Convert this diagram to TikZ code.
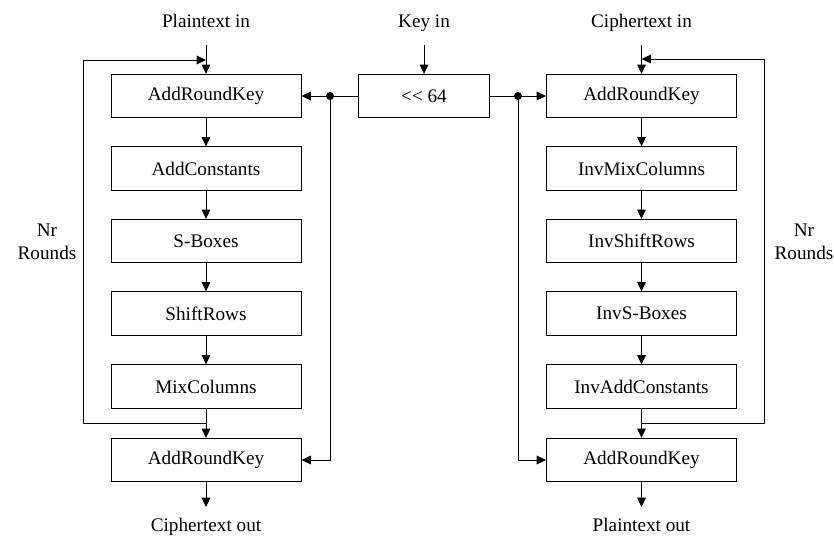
\documentclass[tikz,border=0pt]{standalone}
\usepackage{fontspec}
\setmainfont{Liberation Serif}
\usetikzlibrary{arrows.meta}

\begin{document}
\begin{tikzpicture}[x=0.75pt,y=-0.75pt,>={Triangle[length=7pt,width=6.5pt]}, line width=0.75pt, font=\fontsize{14.4}{17}\selectfont,
	blk/.style={draw, minimum width=142.5pt, minimum height=32.5pt, inner sep=0pt}]
	\def\xl{206} \def\xk{424} \def\xr{641.5} % colonnes
	\useasboundingbox (0,0) rectangle (834,537);
	% chiffrement
	\node[anchor=base] (pin) at (\xl,27) {Plaintext in};
	\node[blk] (la) at (\xl,96) {AddRoundKey};
	\node[blk] (lb) at (\xl,168.5) {AddConstants};
	\node[blk] (lc) at (\xl,241) {S-Boxes};
	\node[blk] (ld) at (\xl,313.5) {ShiftRows};
	\node[blk] (le) at (\xl,386.5) {MixColumns};
	\node[blk] (lf) at (\xl,460) {AddRoundKey};
	\node[anchor=base] (cout) at (\xl,531) {Ciphertext out};
	\node[align=center] (lnr) at (47,242) {Nr\\Rounds};
	% cle
	\node[anchor=base] (kin) at (\xk,27) {Key in};
	\node[blk, minimum width=98pt] (key) at (\xk,96) {{<}{<} 64};
	% dechiffrement
	\node[anchor=base] (cin) at (\xr,27) {Ciphertext in};
	\node[blk] (ra) at (\xr,96) {AddRoundKey};
	\node[blk] (rb) at (\xr,168.5) {InvMixColumns};
	\node[blk] (rc) at (\xr,241) {InvShiftRows};
	\node[blk] (rd) at (\xr,313.5) {InvS-Boxes};
	\node[blk] (re) at (\xr,386.5) {InvAddConstants};
	\node[blk] (rf) at (\xr,460) {AddRoundKey};
	\node[anchor=base] (pout) at (\xr,531) {Plaintext out};
	\node[align=center] (rnr) at (804,242) {Nr\\Rounds};
	% points
	\coordinate (a1) at (\xl,45); \coordinate (a2) at (\xk,45); \coordinate (a3) at (\xr,45);
	\coordinate (b1) at (\xl,507); \coordinate (b2) at (\xr,507);
	\coordinate (kl) at (330,96); \coordinate (kr) at (518,96);
	\coordinate (lj) at (\xl,423); \coordinate (lt) at (\xl,60); \coordinate (lk) at (83,60);
	\coordinate (rj) at (\xr,423); \coordinate (rt) at (\xr,59); \coordinate (rk) at (764,59);
	\draw[->] (a1)--(la); \draw[->] (a2)--(key); \draw[->] (a3)--(ra);
	\draw[->] (la)--(lb); \draw[->] (lb)--(lc); \draw[->] (lc)--(ld); \draw[->] (ld)--(le); \draw[->] (le)--(lf);
	\draw[->] (ra)--(rb); \draw[->] (rb)--(rc); \draw[->] (rc)--(rd); \draw[->] (rd)--(re); \draw[->] (re)--(rf);
	\draw[->] (lf)--(b1); \draw[->] (rf)--(b2);
	\draw[->] (lj) -| (lk) -- (lt);
	\draw[->] (rj) -| (rk) -- (rt);
	\draw[->] (key)--(la); \draw[->] (key)--(ra);
	\draw[->] (kl) |- (lf); \draw[->] (kr) |- (rf);
	\fill (kl) circle(3pt) (kr) circle(3pt);
\end{tikzpicture}
\end{document}
